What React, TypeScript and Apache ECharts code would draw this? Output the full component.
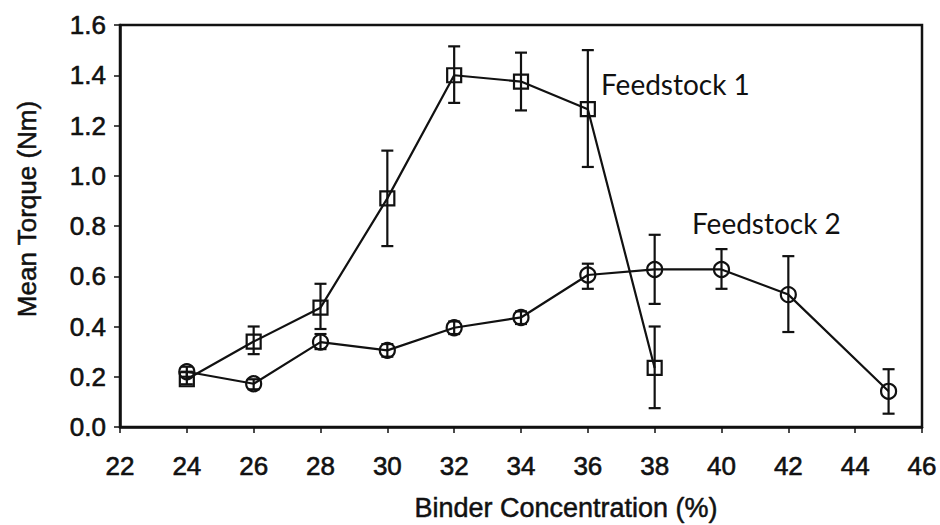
import React, { useEffect, useRef } from "react";
import * as echarts from "echarts";

const xTicks = [22, 24, 26, 28, 30, 32, 34, 36, 38, 40, 42, 44, 46];
const f1X = [24, 26, 28, 30, 32, 34, 36, 38];
const f1Mean = [0.19, 0.34, 0.475, 0.91, 1.4, 1.375, 1.265, 0.235];
const f1Low = [0.17, 0.29, 0.39, 0.72, 1.29, 1.26, 1.035, 0.075];
const f1High = [0.22, 0.4, 0.57, 1.1, 1.515, 1.49, 1.5, 0.4];
const f2X = [24, 26, 28, 30, 32, 34, 36, 38, 40, 42, 45];
const f2Mean = [0.22, 0.172, 0.338, 0.305, 0.395, 0.436, 0.605, 0.627, 0.627, 0.527, 0.142];
const f2Low = [0.2, 0.15, 0.31, 0.28, 0.37, 0.41, 0.55, 0.49, 0.55, 0.378, 0.053];
const f2High = [0.24, 0.19, 0.37, 0.33, 0.42, 0.46, 0.65, 0.765, 0.708, 0.68, 0.23];
const yTitle = "Mean Torque (Nm)";
const xTitle = "Binder Concentration (%)";
const label1 = "Feedstock 1";
const label2 = "Feedstock 2";

const INK = "#111111";
const FONT = "Liberation Sans";

function errorSeries(xs: number[], lo: number[], hi: number[]) {
  return {
    type: "custom",
    data: xs.map((x, i) => [x, lo[i], hi[i]]),
    z: 3,
    renderItem: (params: any, api: any) => {
      const x = api.value(0);
      const p1 = api.coord([x, api.value(2)]);
      const p2 = api.coord([x, api.value(1)]);
      const hw = 6;
      const style = { stroke: INK, lineWidth: 2.2 };
      return {
        type: "group",
        children: [
          { type: "line", shape: { x1: p1[0], y1: p1[1], x2: p2[0], y2: p2[1] }, style },
          { type: "line", shape: { x1: p1[0] - hw, y1: p1[1], x2: p1[0] + hw, y2: p1[1] }, style },
          { type: "line", shape: { x1: p2[0] - hw, y1: p2[1], x2: p2[0] + hw, y2: p2[1] }, style },
        ],
      };
    },
  };
}

export default function App() {
  const ref = useRef<HTMLDivElement>(null);
  useEffect(() => {
    if (!ref.current) return;
    const chart = echarts.init(ref.current, null, { renderer: "svg" });
    const thick = { textBorderColor: INK, textBorderWidth: 0.6 };
    chart.setOption({
      animation: false,
      backgroundColor: "#ffffff",
      grid: {
        left: 120,
        right: 18,
        top: 25,
        bottom: 98,
        show: true,
        borderColor: INK,
        borderWidth: 2.5,
        backgroundColor: "transparent",
      },
      xAxis: {
        type: "value",
        min: xTicks[0],
        max: xTicks[xTicks.length - 1],
        interval: 2,
        axisLine: { show: true, lineStyle: { color: INK, width: 2.5 } },
        axisTick: { show: true, inside: false, length: 6, lineStyle: { color: INK, width: 1.5 } },
        axisLabel: { color: INK, fontSize: 26, fontFamily: FONT, margin: 26, ...thick },
        splitLine: { show: false },
      },
      yAxis: {
        type: "value",
        min: 0,
        max: 1.6,
        interval: 0.2,
        axisLine: { show: true, lineStyle: { color: INK, width: 2.5 } },
        axisTick: { show: true, inside: false, length: 6, lineStyle: { color: INK, width: 1.5 } },
        axisLabel: {
          color: INK,
          fontSize: 26,
          fontFamily: FONT,
          margin: 14,
          formatter: (v: number) => v.toFixed(1),
          ...thick,
        },
        splitLine: { show: false },
      },
      graphic: [
        {
          type: "text",
          x: 27,
          y: 209,
          rotation: Math.PI / 2,
          style: {
            text: yTitle,
            fill: INK,
            fontSize: 26,
            fontFamily: FONT,
            textAlign: "center",
            textVerticalAlign: "middle",
            stroke: INK,
            lineWidth: 0.5,
          },
        },
        {
          type: "text",
          x: 566,
          y: 508,
          style: {
            text: xTitle,
            fill: INK,
            fontSize: 27,
            fontFamily: FONT,
            textAlign: "center",
            textVerticalAlign: "middle",
            stroke: INK,
            lineWidth: 0.5,
          },
        },
        {
          type: "text",
          x: 601,
          y: 84,
          style: {
            text: label1,
            fill: "#111",
            fontSize: 28,
            fontFamily: "Lato",
            textAlign: "left",
            textVerticalAlign: "middle",
          },
        },
        {
          type: "text",
          x: 692,
          y: 223,
          style: {
            text: label2,
            fill: "#111",
            fontSize: 28,
            fontFamily: "Lato",
            textAlign: "left",
            textVerticalAlign: "middle",
          },
        },
      ],
      series: [
        errorSeries(f1X, f1Low, f1High),
        errorSeries(f2X, f2Low, f2High),
        {
          type: "line",
          name: label1,
          data: f1X.map((x, i) => [x, f1Mean[i]]),
          symbol: "rect",
          symbolSize: 14,
          showAllSymbol: true,
          lineStyle: { color: INK, width: 2.2 },
          itemStyle: { color: "rgba(0,0,0,0)", borderColor: INK, borderWidth: 2.2 },
          z: 4,
        },
        {
          type: "line",
          name: label2,
          data: f2X.map((x, i) => [x, f2Mean[i]]),
          symbol: "circle",
          symbolSize: 15,
          showAllSymbol: true,
          lineStyle: { color: INK, width: 2.2 },
          itemStyle: { color: "rgba(0,0,0,0)", borderColor: INK, borderWidth: 2.2 },
          z: 4,
        },
      ],
    });
    return () => chart.dispose();
  }, []);
  return <div ref={ref} style={{ width: 940, height: 525, position: "absolute", left: 0, top: 0 }} />;
}
